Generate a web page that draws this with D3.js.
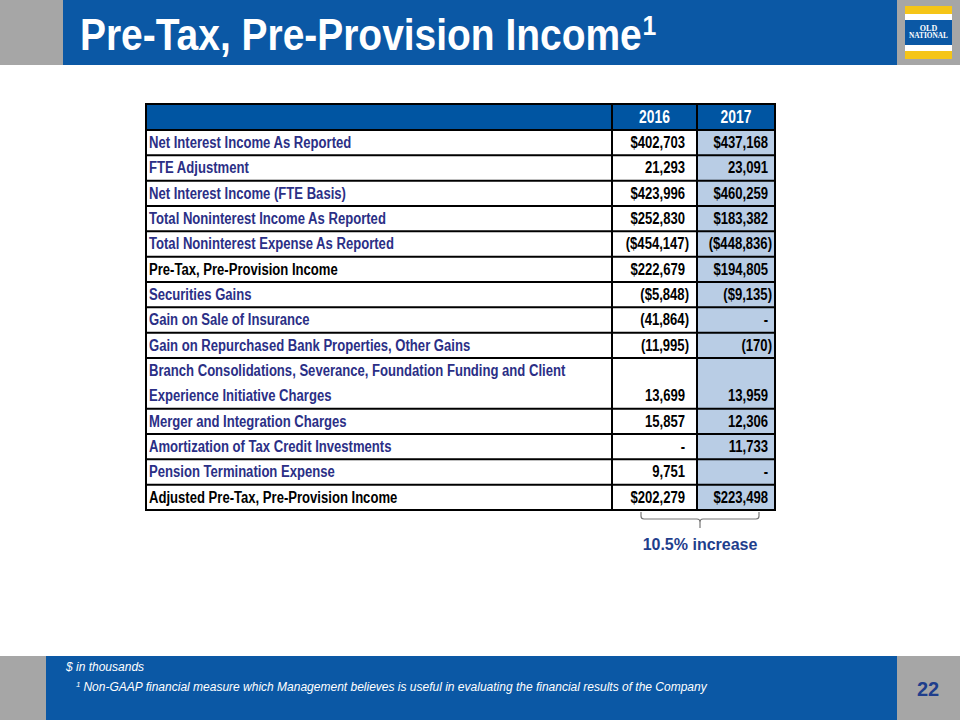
<!DOCTYPE html>
<html><head><meta charset="utf-8">
<script src="https://cdn.jsdelivr.net/npm/d3@7"></script>
<style>body{margin:0;background:#fff}svg{display:block}</style>
</head><body>
<script>
const years = ["2016", "2017"];
const labels = [
  ["Net Interest Income As Reported"],
  ["FTE Adjustment"],
  ["Net Interest Income (FTE Basis)"],
  ["Total Noninterest Income As Reported"],
  ["Total Noninterest Expense As Reported"],
  ["Pre-Tax, Pre-Provision Income"],
  ["Securities Gains"],
  ["Gain on Sale of Insurance"],
  ["Gain on Repurchased Bank Properties, Other Gains"],
  ["Branch Consolidations, Severance, Foundation Funding and Client", "Experience Initiative Charges"],
  ["Merger and Integration Charges"],
  ["Amortization of Tax Credit Investments"],
  ["Pension Termination Expense"],
  ["Adjusted Pre-Tax, Pre-Provision Income"]
];
const values2016 = [402703, 21293, 423996, 252830, -454147, 222679, -5848, -41864, -11995, 13699, 15857, null, 9751, 202279];
const values2017 = [437168, 23091, 460259, 183382, -448836, 194805, -9135, null, -170, 13959, 12306, 11733, null, 223498];
const dollarRows = [0, 2, 3, 4, 5, 6, 13];
const blackRows = [5, 13];
const increaseLabel = "10.5% increase";
const titleText = "Pre-Tax, Pre-Provision Income";
const footnotes = ["$ in thousands", "Non-GAAP financial measure which Management believes is useful in evaluating the financial results of the Company"];
const pageNumber = "22";

const W = 960, H = 720;
const svg = d3.select("body").append("svg").attr("width", W).attr("height", H);
const arial = "'Liberation Sans',Arial,sans-serif";

function ctext(sel, x, y, str, o) {
  return sel.append("text")
    .attr("transform", `translate(${x},${y}) scale(${o.sx || 1},1)`)
    .attr("text-anchor", o.anchor || "start")
    .attr("fill", o.fill || "#000")
    .attr("font-family", arial)
    .attr("font-weight", o.weight || "bold")
    .attr("font-size", o.size)
    .text(str);
}

// Top banner
svg.append("rect").attr("x",0).attr("y",0).attr("width",63).attr("height",65).attr("fill","#a6a6a6");
svg.append("rect").attr("x",63).attr("y",0).attr("width",834).attr("height",65).attr("fill","#0b58a5");
svg.append("rect").attr("x",897).attr("y",0).attr("width",63).attr("height",65).attr("fill","#a6a6a6");
const title = ctext(svg, 80, 50, titleText, {sx: 0.885, size: 44, fill: "#fff"});
title.append("tspan").attr("font-size",28).attr("dx",1).attr("dy",-15).text("1");

// Logo
const lg = svg.append("g").attr("transform","translate(905,6)");
lg.append("rect").attr("width",47).attr("height",53).attr("fill","#f5c518");
lg.append("rect").attr("y",8).attr("width",47).attr("height",37).attr("fill","#fff");
lg.append("rect").attr("y",14).attr("width",47).attr("height",25).attr("fill","#0b58a5");
lg.append("text").attr("x",23.5).attr("y",24.5).attr("text-anchor","middle").attr("fill","#fff")
  .attr("font-family","'Liberation Serif',serif").attr("font-weight","bold").attr("font-size",8).text("OLD");
lg.append("text").attr("x",23.5).attr("y",32).attr("text-anchor","middle").attr("fill","#fff")
  .attr("font-family","'Liberation Serif',serif").attr("font-weight","bold").attr("font-size",8)
  .attr("textLength",39).attr("lengthAdjust","spacingAndGlyphs").text("NATIONAL");

// Bottom bar
svg.append("rect").attr("x",0).attr("y",656).attr("width",46).attr("height",64).attr("fill","#a6a6a6");
svg.append("rect").attr("x",46).attr("y",656).attr("width",851).attr("height",64).attr("fill","#0b58a5");
svg.append("rect").attr("x",897).attr("y",656).attr("width",63).attr("height",64).attr("fill","#a6a6a6");
svg.append("text").attr("x",66).attr("y",671).attr("fill","#fff").attr("font-family",arial)
  .attr("font-style","italic").attr("font-size",12).text(footnotes[0]);
const fn = svg.append("text").attr("x",76).attr("y",691).attr("fill","#fff").attr("font-family",arial)
  .attr("font-style","italic").attr("font-size",12);
fn.append("tspan").attr("font-size",8).attr("dy",-4).text("1");
fn.append("tspan").attr("dy",4).attr("dx",3).text(footnotes[1]);
svg.append("text").attr("x",928).attr("y",696).attr("text-anchor","middle").attr("fill","#1f3e8c")
  .attr("font-family",arial).attr("font-weight","bold").attr("font-size",20).text(pageNumber);

// Table
const units = labels.map(l => l.length);
const cum = [0]; units.forEach(u => cum.push(cum[cum.length-1] + u));
const y = d3.scaleLinear().domain([0, cum[cum.length-1]]).range([130, 510]);
const colEdges = [146, 612, 697, 775];
const headerTop = 104;
const SX = 0.77, FS = 17;

const t = svg.append("g");
t.append("rect").attr("x",colEdges[2]).attr("y",y(0)).attr("width",colEdges[3]-colEdges[2])
  .attr("height",y(cum[cum.length-1])-y(0)).attr("fill","#b9cde5");
t.append("rect").attr("x",colEdges[0]).attr("y",headerTop).attr("width",colEdges[3]-colEdges[0])
  .attr("height",y(0)-headerTop).attr("fill","#0055a2");
years.forEach((yr,i) => {
  ctext(t, (colEdges[i+1]+colEdges[i+2])/2, 122.5, yr, {sx: SX, size: 18, fill: "#fff", anchor: "middle"});
});

function fmt(v, dollar) {
  if (v === null) return "-";
  const s = d3.format(",")(Math.abs(v));
  const d = dollar ? "$" : "";
  return v < 0 ? "(" + d + s + ")" : d + s;
}

const BL = 18;
labels.forEach((lab, i) => {
  const top = y(cum[i]), bot = y(cum[i+1]);
  const rowH = (bot - top) / lab.length;
  const col = blackRows.includes(i) ? "#000" : "#2b2f86";
  lab.forEach((line, j) => {
    ctext(t, 149, top + rowH*j + BL, line, {sx: SX, size: FS, fill: col});
  });
  const vy = bot - rowH + BL;
  const dol = dollarRows.includes(i);
  [values2016[i], values2017[i]].forEach((v, k) => {
    const isParen = v !== null && v < 0;
    const pad = k === 0 ? 12 : 7;
    ctext(t, colEdges[k+2] - pad + (isParen ? 4 : 0), vy, fmt(v, dol), {sx: SX, size: FS, anchor: "end"});
  });
});

const lw = 2;
cum.forEach(c => {
  t.append("line").attr("x1",colEdges[0]-1).attr("x2",colEdges[3]+1).attr("y1",y(c)).attr("y2",y(c))
    .attr("stroke","#000").attr("stroke-width",lw);
});
t.append("line").attr("x1",colEdges[0]-1).attr("x2",colEdges[3]+1).attr("y1",headerTop).attr("y2",headerTop)
  .attr("stroke","#000").attr("stroke-width",lw);
colEdges.forEach(x => {
  t.append("line").attr("x1",x).attr("x2",x).attr("y1",headerTop).attr("y2",y(cum[cum.length-1]))
    .attr("stroke","#000").attr("stroke-width",lw);
});

// bracket
const bx0 = 641, bx1 = 759, bm = (bx0+bx1)/2, by = 512;
svg.append("path")
  .attr("d", `M${bx0},${by} L${bx0},${by+4} Q${bx0},${by+7} ${bx0+3},${by+7} L${bm-3},${by+7} Q${bm},${by+7} ${bm},${by+10} L${bm},${by+16} M${bm},${by+10} Q${bm},${by+7} ${bm+3},${by+7} L${bx1-3},${by+7} Q${bx1},${by+7} ${bx1},${by+4} L${bx1},${by}`)
  .attr("fill","none").attr("stroke","#777").attr("stroke-width",1.2);
svg.append("text").attr("x",bm).attr("y",550).attr("text-anchor","middle").attr("fill","#1f3e8c")
  .attr("font-family",arial).attr("font-weight","bold").attr("font-size",16).text(increaseLabel);
</script>
</body></html>
